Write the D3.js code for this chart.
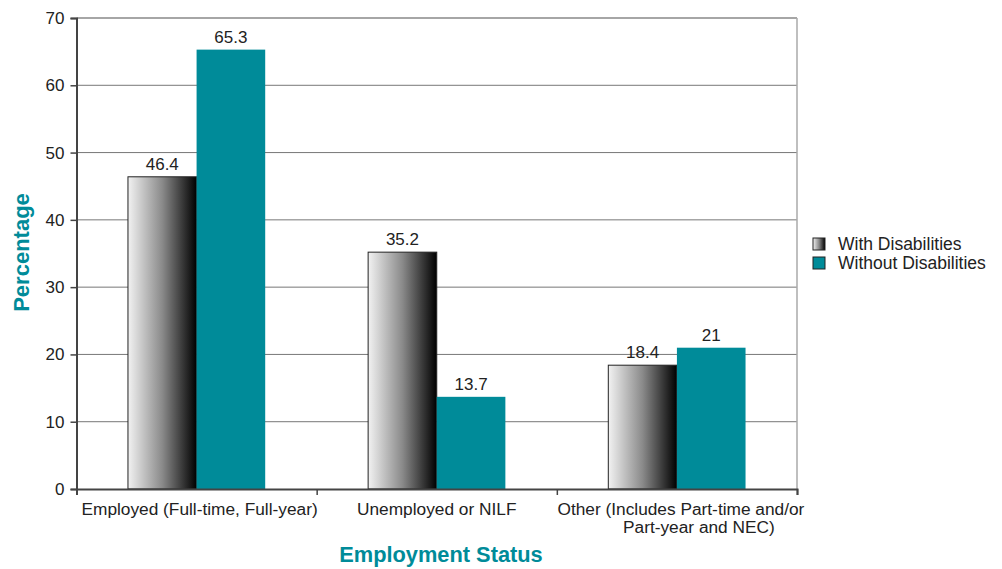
<!DOCTYPE html>
<html>
<head>
<meta charset="utf-8">
<script src="https://cdn.jsdelivr.net/npm/d3@7"></script>
<style>
  body { margin: 0; background: #fff; }
  svg text { font-family: "Liberation Sans", Arial, sans-serif; }
</style>
</head>
<body>
<svg id="chart" width="1002" height="569"></svg>
<script>
// data
var categories = ["Employed (Full-time, Full-year)", "Unemployed or NILF", "Other (Includes Part-time and/or\nPart-year and NEC)"];
var series = ["With Disabilities", "Without Disabilities"];
var withDis = [46.4, 35.2, 18.4];
var withoutDis = [65.3, 13.7, 21];
var labelsWith = ["46.4", "35.2", "18.4"];
var labelsWithout = ["65.3", "13.7", "21"];
var yTicks = [0, 10, 20, 30, 40, 50, 60, 70];

var teal = "#008b99";
var svg = d3.select("#chart");
var margin = {top: 18, left: 76.5, right: 205, bottom: 80};
var width = 1002 - margin.left - margin.right,
    height = 569 - margin.top - margin.bottom;

// gradient za sive stolpce
var defs = svg.append("defs");
var grad = defs.append("linearGradient").attr("id", "gray").attr("x1", "0").attr("x2", "1");
grad.append("stop").attr("offset", "0").attr("stop-color", "#f2f2f2");
grad.append("stop").attr("offset", "0.5").attr("stop-color", "#8a8a8a");
grad.append("stop").attr("offset", "1").attr("stop-color", "#000");

var g = svg.append("g").attr("transform", "translate(" + margin.left + "," + margin.top + ")");

var x = d3.scaleBand().domain(d3.range(categories.length)).range([0, width]).paddingInner(0).paddingOuter(0);
var x1 = d3.scaleBand().domain(d3.range(series.length)).range([0, x.bandwidth()]).paddingInner(0).paddingOuter(0.75);
var y = d3.scaleLinear().domain([0, 70]).range([height, 0]);

// mreza
g.append("g")
  .selectAll("line")
  .data(yTicks.slice(1, -1))
  .join("line")
    .attr("x1", 0).attr("x2", width)
    .attr("y1", d => y(d)).attr("y2", d => y(d))
    .attr("stroke", "#777").attr("stroke-width", 1);

// okvir zgoraj in desno
g.append("line").attr("x1", 0).attr("x2", width).attr("y1", y(70)).attr("y2", y(70))
  .attr("stroke", "#888").attr("stroke-width", 1.5);
g.append("line").attr("x1", width).attr("x2", width).attr("y1", y(70)).attr("y2", height)
  .attr("stroke", "#aaa").attr("stroke-width", 1.5);

// stolpci
var groups = g.append("g").selectAll("g")
  .data(categories.map((c, i) => ({i: i, vals: [withDis[i], withoutDis[i]], labs: [labelsWith[i], labelsWithout[i]]})))
  .join("g")
    .attr("transform", d => "translate(" + x(d.i) + ",0)");

groups.selectAll("rect")
  .data(d => d.vals.map((v, k) => ({k: k, v: v})))
  .join("rect")
    .attr("x", d => x1(d.k))
    .attr("y", d => y(d.v))
    .attr("width", x1.bandwidth())
    .attr("height", d => height - y(d.v))
    .attr("fill", d => d.k == 0 ? "url(#gray)" : teal)
    .attr("stroke", d => d.k == 0 ? "#222" : "none")
    .attr("stroke-width", 1);

groups.selectAll("text")
  .data(d => d.vals.map((v, k) => ({k: k, v: v, lab: d.labs[k]})))
  .join("text")
    .attr("x", d => x1(d.k) + x1.bandwidth() / 2)
    .attr("y", d => y(d.v) - 7)
    .attr("text-anchor", "middle")
    .attr("font-size", 17)
    .attr("fill", "#222")
    .text(d => d.lab);

// osi
var yAxis = g.append("g")
  .call(d3.axisLeft(y).tickValues(yTicks).tickSize(6).tickPadding(6));
yAxis.select(".domain").attr("stroke", "#444").attr("stroke-width", 2);
yAxis.selectAll(".tick line").attr("stroke", "#444").attr("stroke-width", 1.5);
yAxis.selectAll(".tick text").attr("font-size", 17).attr("fill", "#222")
  .attr("font-family", "Liberation Sans, Arial, sans-serif");

var xAxis = g.append("g")
  .attr("transform", "translate(0," + height + ")")
  .call(d3.axisBottom(d3.scaleLinear().domain([0, 3]).range([0, width])).tickValues([0, 1, 2, 3]).tickSize(6).tickFormat(""));
xAxis.select(".domain").attr("stroke", "#444").attr("stroke-width", 2);
xAxis.selectAll(".tick line").attr("stroke", "#444").attr("stroke-width", 1.5);

var catOffsets = [[3], [0], [4, 22]];
g.append("g").selectAll("text")
  .data(categories)
  .join("text")
    .attr("text-anchor", "middle")
    .attr("font-size", 17.3)
    .attr("fill", "#222")
    .each(function(d, i) {
      var lines = d.split("\n");
      var t = d3.select(this);
      lines.forEach((ln, j) => {
        t.append("tspan")
          .attr("x", x(i) + x.bandwidth() / 2 + catOffsets[i][j])
          .attr("y", height + 26 + j * 18)
          .text(ln);
      });
    });

// naslovi osi
svg.append("text")
  .attr("transform", "translate(29," + (margin.top + height / 2 - 1) + ") rotate(-90)")
  .attr("text-anchor", "middle")
  .attr("font-size", 22).attr("font-weight", "bold").attr("fill", teal)
  .text("Percentage");

svg.append("text")
  .attr("x", 441).attr("y", 562)
  .attr("text-anchor", "middle")
  .attr("font-size", 21.8).attr("font-weight", "bold").attr("fill", teal)
  .text("Employment Status");

// legenda
var legend = svg.append("g").attr("transform", "translate(813,238)");
series.forEach((s, i) => {
  legend.append("rect")
    .attr("x", 0).attr("y", i * 19)
    .attr("width", 12).attr("height", 12)
    .attr("fill", i == 0 ? "url(#gray)" : teal)
    .attr("stroke", "#222").attr("stroke-width", 1);
  legend.append("text")
    .attr("x", 25).attr("y", i * 19 + 12)
    .attr("font-size", 17.5).attr("fill", "#222")
    .text(s);
});
</script>
</body>
</html>
